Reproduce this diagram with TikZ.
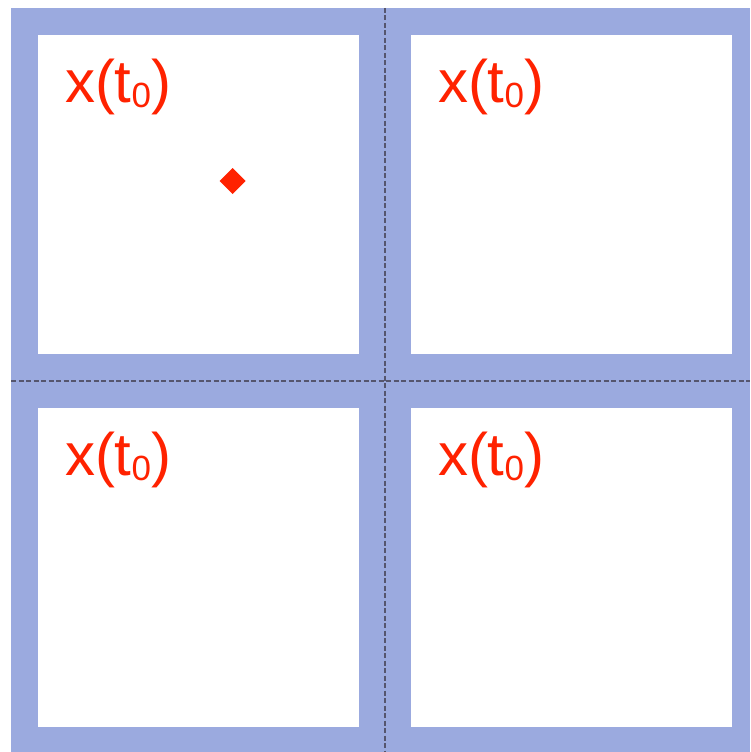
\documentclass[tikz,border=0pt]{standalone}
\usepackage{fontspec}
\setmainfont{Liberation Sans}
\usetikzlibrary{calc}
\definecolor{framec}{RGB}{155,170,223}
\definecolor{markc}{RGB}{255,34,0}
\definecolor{gridc}{RGB}{85,85,110}

\newcommand{\xtnull}{x(t\raisebox{-5pt}{\fontsize{35}{35}\selectfont 0})}

\begin{document}
\begin{tikzpicture}[x=1pt, y=-1pt,
    panel/.style={fill=white, draw=none, inner sep=0pt, minimum width=321pt, minimum height=319pt},
    statelabel/.style={markc, anchor=base west, inner sep=0pt, font=\fontsize{60}{60}\selectfont},
    cut/.style={gridc, line width=1.1pt, dash pattern=on 5pt off 2.5pt}]
  \useasboundingbox (0,0) rectangle (750,752);

  % blue frame behind the four panels
  \fill[framec] (11,8) rectangle (750,752);

  % the four state panels
  \node[panel] (tl) at (198.5,194.5) {};
  \node[panel] (tr) at (571.5,194.5) {};
  \node[panel] (bl) at (198.5,567.5) {};
  \node[panel] (br) at (571.5,567.5) {};

  % dashed cuts between the panels
  \coordinate (vtop) at (385,8);
  \coordinate (vbot) at (385,752);
  \coordinate (hleft) at (11,381);
  \coordinate (hright) at (750,381);
  \draw[cut] (vtop) -- (vbot);
  \draw[cut] (hleft) -- (hright);

  % labels
  \foreach \p in {tl,tr,bl,br}{
    \node[statelabel] (lab-\p) at ($(\p.north west)+(27,68)$) {\xtnull};
  }

  % the marked state
  \coordinate (pt) at (232.5,181);
  \fill[markc] ($(pt)+(0,-13)$) -- ($(pt)+(13,0)$) -- ($(pt)+(0,13)$) -- ($(pt)+(-13,0)$) -- cycle;
\end{tikzpicture}
\end{document}
